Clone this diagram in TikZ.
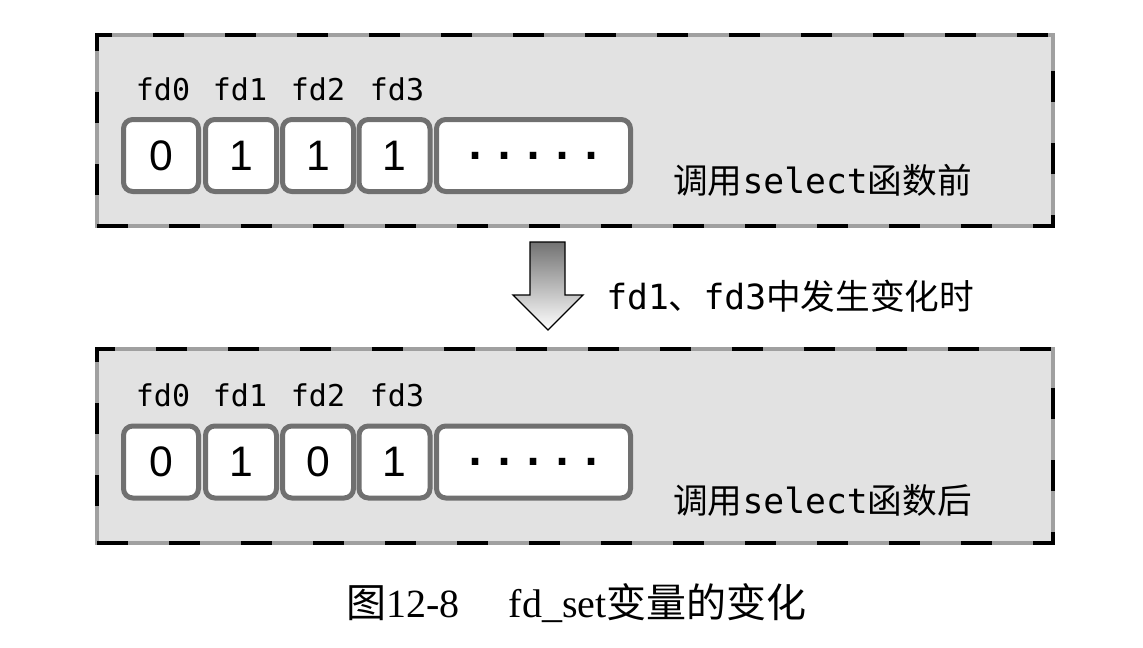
\documentclass[tikz,border=0pt]{standalone}
\usepackage{fontspec}
\setmainfont{Liberation Serif}
\newfontfamily\cjkf{Noto Sans CJK SC}
\newfontfamily\monof{DejaVu Sans Mono}
\newfontfamily\digf{Liberation Sans}
\definecolor{boxgray}{RGB}{226,226,226}
\definecolor{cellborder}{RGB}{112,112,112}
\definecolor{dashgray}{RGB}{160,160,160}
\newcommand{\onedot}{\makebox[21.75pt]{.}}
\newcommand{\fivedots}{\onedot\onedot\onedot\onedot\onedot}
\tikzset{
  frame/.style={draw=dashgray, line width=3pt, fill=boxgray, inner sep=0pt,
    minimum width=717pt,
    postaction={draw=black, line width=3pt, dash pattern=on 23pt off 31pt}},
  cellbox/.style={draw=cellborder, line width=3.75pt, fill=white, rounded corners=7pt,
    minimum height=54pt, inner sep=0pt, font=\digf\fontsize{32pt}{32pt}\selectfont},
  widecell/.style={cellbox, minimum width=56.25pt},
  narrowcell/.style={cellbox, minimum width=53.25pt},
  dotcell/.style={cellbox, minimum width=145.5pt, font=\monof\bfseries\fontsize{30pt}{30pt}\selectfont},
  fdlabel/.style={anchor=base, inner sep=0pt, font=\monof\fontsize{22.5pt}{22.5pt}\selectfont},
  note/.style={anchor=west, inner sep=0pt, font=\monof\fontsize{26pt}{30pt}\selectfont},
  bigarrow/.style={top color=black!55, bottom color=white, draw=black, line width=1pt}
}
\begin{document}
\begin{tikzpicture}[x=0.75pt,y=-0.75pt]
\useasboundingbox (0,0) rectangle (1143,647);
% top state
\node[frame, minimum height=143.25pt] (topbox) at (575,130.5) {};
\node[fdlabel] (tl0) at (163,100) {fd0};
\node[fdlabel] (tl1) at (240,100) {fd1};
\node[fdlabel] (tl2) at (318,100) {fd2};
\node[fdlabel] (tl3) at (397,100) {fd3};
\node[widecell]   (t0) at (161,155.5) {0};
\node[narrowcell] (t1) at (241,155.5) {1};
\node[narrowcell] (t2) at (318,155.5) {1};
\node[narrowcell] (t3) at (394.5,155.5) {1};
\node[dotcell]    (t4) at (533.5,155.5) {\fivedots};
\node[note] (tnote) at (673,180) {{\cjkf 调用}select{\cjkf 函数前}};
% arrow
\coordinate (a1) at (530,242);
\coordinate (a2) at (565,242);
\coordinate (a3) at (565,295);
\coordinate (a4) at (583,295);
\coordinate (a5) at (548,330);
\coordinate (a6) at (513,295);
\coordinate (a7) at (530,295);
\shade[bigarrow] (a1) -- (a2) -- (a3) -- (a4) -- (a5) -- (a6) -- (a7) -- cycle;
\node[note] (chg) at (606,296) {fd1{\cjkf 、}fd3{\cjkf 中发生变化时}};
% bottom state
\node[frame, minimum height=145.5pt] (botbox) at (575,446) {};
\node[fdlabel] (bl0) at (163,406) {fd0};
\node[fdlabel] (bl1) at (240,406) {fd1};
\node[fdlabel] (bl2) at (318,406) {fd2};
\node[fdlabel] (bl3) at (397,406) {fd3};
\node[widecell]   (b0) at (161,462) {0};
\node[narrowcell] (b1) at (241,462) {1};
\node[narrowcell] (b2) at (318,462) {0};
\node[narrowcell] (b3) at (394.5,462) {1};
\node[dotcell]    (b4) at (533.5,462) {\fivedots};
\node[note] (bnote) at (673,500) {{\cjkf 调用}select{\cjkf 函数后}};
% caption
\node[anchor=west, inner sep=0pt, font=\fontsize{30pt}{30pt}\selectfont] (cap) at (346,603)
  {{\cjkf 图}12-8\hspace{37pt}fd\_set{\cjkf 变量的变化}};
\end{tikzpicture}
\end{document}
